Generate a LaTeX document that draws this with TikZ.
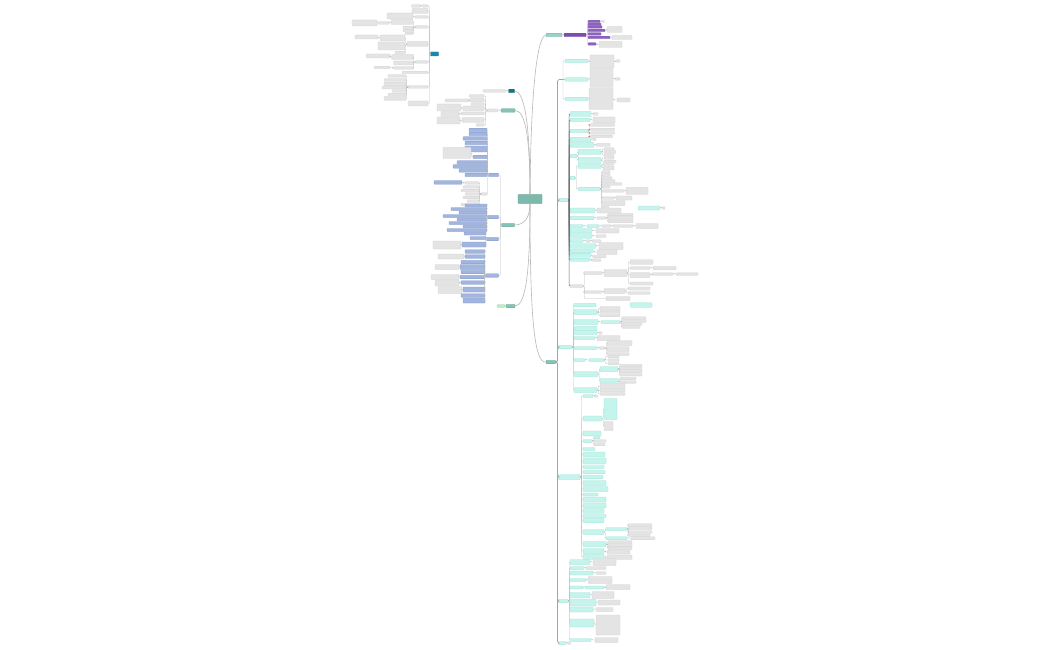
\documentclass[tikz,border=0pt]{standalone}
\definecolor{cfill}{HTML}{7DB9AC}
\definecolor{cedge}{HTML}{5E9E91}
\definecolor{tfill}{HTML}{86C3B6}
\definecolor{tedge}{HTML}{67A99B}
\definecolor{tlight}{HTML}{9AD4C8}
\definecolor{cyfill}{HTML}{C4F4EC}
\definecolor{cyedge}{HTML}{9FE3D8}
\definecolor{lffill}{HTML}{E4E4E4}
\definecolor{lfedge}{HTML}{D2D2D2}
\definecolor{blfill}{HTML}{A2B5DE}
\definecolor{bledge}{HTML}{7E96C8}
\definecolor{pufill}{HTML}{7A4DAF}
\definecolor{pulight}{HTML}{8C63BC}
\definecolor{dteal}{HTML}{18708A}
\definecolor{tblue}{HTML}{1D86AD}
\definecolor{grfill}{HTML}{B9F0C9}
\definecolor{conncol}{HTML}{BDBDBD}
\definecolor{spinecol}{HTML}{A4A4A4}
\definecolor{curvecol}{HTML}{B8B8B8}
\definecolor{dconncol}{HTML}{6E6E6E}
\tikzset{
 mbox/.style={inner sep=0pt, outer sep=0pt, rounded corners=0.5pt, line width=0.25pt},
 mlf/.style={mbox, fill=lffill, draw=lfedge},
 mcy/.style={mbox, fill=cyfill, draw=cyedge},
 mbl/.style={mbox, fill=blfill, draw=bledge},
 mpu/.style={mbox, fill=pufill, draw=pufill},
 mpul/.style={mbox, fill=pulight, draw=pulight},
 mtm/.style={mbox, fill=tfill, draw=tedge},
 mgr/.style={mbox, fill=grfill, draw=grfill!80!black},
 conn/.style={draw=conncol, line width=0.35pt, rounded corners=0.8pt},
 dconn/.style={draw=dconncol, line width=0.55pt, rounded corners=0.8pt},
 spine/.style={draw=spinecol, line width=0.7pt, rounded corners=1.5pt},
 mainconn/.style={draw=curvecol, line width=0.6pt},
 reddot/.style={circle, fill=red!75, inner sep=0pt, minimum size=1.5pt},
}
% #2 parent, #3 name, #4 style, #5 x, #6 y, #7 width, #8 height
\newcommand\mmR[8][conn]{%
  \node[#4,anchor=west,minimum width=#7pt,minimum height=#8pt] (#3) at (#5,#6) {};
  \draw[#1] (#2.east) -- ++(1.2,0) |- (#3.west);}
\newcommand\mmL[8][conn]{%
  \node[#4,anchor=east,minimum width=#7pt,minimum height=#8pt] (#3) at (#5,#6) {};
  \draw[#1] (#2.west) -- ++(-1.2,0) |- (#3.east);}
\begin{document}
\begin{tikzpicture}[x=1pt,y=-1pt]
\fill[white] (0,0) rectangle (1050,650);
\useasboundingbox (0,0) rectangle (1050,650);

% ---------- central topic ----------
\node[mbox, fill=cfill, draw=cedge, minimum width=24pt, minimum height=9pt] (C) at (530,199) {};

% ---------- main branches ----------
\node[mbox, fill=tlight, draw=tedge, anchor=west, minimum width=16pt, minimum height=3.5pt] (A) at (546,35) {};
\draw[mainconn] (C.north) .. controls (531,80) and (538,36) .. (A.west);
\node[mbox, fill=dteal, draw=dteal, anchor=east, minimum width=6pt, minimum height=3.5pt] (B) at (514.5,91) {};
\draw[mainconn] (C.north) .. controls (530,120) and (524,91) .. (B.east);
\node[mtm, anchor=east, minimum width=14pt, minimum height=3.5pt] (D) at (515,110.5) {};
\draw[mainconn] (C.north) .. controls (530,135) and (525,110.5) .. (D.east);
\node[mtm, anchor=east, minimum width=13pt, minimum height=3.5pt] (E) at (514.5,225) {};
\draw[mainconn] (C.south) .. controls (530,218) and (524,225) .. (E.east);
\node[mtm, anchor=east, minimum width=9pt, minimum height=3.5pt] (F) at (515,306) {};
\draw[mainconn] (C.south) .. controls (530,270) and (526,306) .. (F.east);
\node[mtm, anchor=west, minimum width=9.5pt, minimum height=3.5pt] (S) at (546,362) {};
\draw[mainconn] (C.south) .. controls (530,315) and (534,364) .. (S.west);

% ---------- A: purple ----------
\mmR{A}{P}{mpu}{564}{35}{22}{3.5}
\mmR{P}{p1}{mpul}{588}{21.5}{12}{2.5}
\mmR{P}{p2}{mpul}{588}{24.3}{13}{2.5}
\mmR{P}{p3}{mpul}{588}{27}{14}{2.5}
\mmR{P}{p4}{mpul}{588}{30.5}{17}{2.5}
\mmR{P}{p5}{mpul}{588}{34}{13}{2.5}
\mmR{P}{p6}{mpul}{588}{37.5}{22}{2.5}
\mmR{P}{p7}{mpul}{588}{44}{8}{2.5}
\mmR{p1}{p1a}{mlf}{601.5}{21.5}{3}{2}
\mmR{p4}{p4a}{mlf}{607}{29.5}{15}{6}
\mmR{p6}{p6a}{mlf}{612}{37.5}{20}{4}
\mmR{p7}{p7a}{mlf}{599}{44.5}{23}{6}

% ---------- B ----------
\mmL{B}{b1}{mlf}{506}{91}{23}{2.5}

% ---------- D ----------
\mmL{D}{d0}{mlf}{498}{110.5}{11}{3}
\mmL{d0}{d1}{mlf}{484}{96}{15}{2.5}
\mmL{d0}{d2}{mlf}{484}{100}{14}{4}
\mmL{d2}{d2a}{mlf}{469}{100.5}{24}{3}
\mmL{d0}{d3}{mlf}{484}{104}{13}{2.5}
\mmL{d0}{d4}{mlf}{484}{108.5}{21}{5}
\mmL{d4}{d4a}{mlf}{461}{107.5}{24}{7}
\mmL{d0}{d5}{mlf}{484}{113.5}{23}{3}
\mmL{d5}{d5a}{mlf}{459}{114}{18}{5}
\mmL{d0}{d6}{mlf}{484}{120}{22}{5}
\mmL{d6}{d6a}{mlf}{460}{120.5}{23}{7}
\mmL{d0}{d7}{mlf}{484}{125}{8}{2.5}

% ---------- E ----------
\mmL{E}{e1}{mbl}{498.5}{175}{10}{3.5}
\mmL{E}{e2}{mbl}{498.5}{217}{11}{3.5}
\mmL{E}{e3}{mbl}{498.5}{239}{12}{3.5}
\mmL{E}{e4}{mbl}{498.5}{275.5}{13}{3.5}
\mmL{e1}{e11}{mbl}{487}{130}{18}{3.5}
\mmL{e1}{e12}{mbl}{487}{134}{18}{3.5}
\mmL{e1}{e13}{mbl}{487}{138.5}{24}{3.5}
\mmL{e1}{e14}{mbl}{487}{143}{22}{3.5}
\mmL{e1}{e15}{mbl}{487}{149}{22}{6}
\mmL{e1}{e16}{mbl}{487}{157}{14}{3.5}
\mmL{e16}{e16a}{mlf}{471}{153}{28}{11}
\mmL{e1}{e17}{mbl}{487}{162.5}{30}{3.5}
\mmL{e1}{e18}{mbl}{487}{166.5}{34}{3.5}
\mmL{e1}{e19}{mbl}{487}{170.5}{28}{3.5}
\mmL{e1}{e1a}{mbl}{487}{175}{22}{3.5}
\mmL{e1}{e1b}{mlf}{487}{194}{6}{2.5}
\mmL{e1b}{e1b1}{mlf}{479}{183}{14}{2.5}
\mmL{e1b1}{e1b1a}{mbl}{462}{182.5}{28}{3.5}
\mmL{e1b}{e1b2}{mlf}{479}{187}{16}{2.5}
\mmL{e1b}{e1b3}{mlf}{479}{190.5}{18}{2.5}
\mmL{e1b}{e1b4}{mlf}{479}{194}{14}{2.5}
\mmL{e1b}{e1b5}{mlf}{479}{197.5}{16}{2.5}
\mmL{e1b}{e1b6}{mlf}{479}{201}{12}{2.5}
\mmL{e1b}{e1b7}{mlf}{479}{204.5}{18}{2.5}
\mmL{e2}{e21}{mbl}{487}{205.5}{22}{3}
\mmL{e2}{e22}{mbl}{487}{209}{36}{3}
\mmL{e2}{e23}{mbl}{487}{212.5}{28}{3}
\mmL{e2}{e24}{mbl}{487}{216}{44}{3}
\mmL{e2}{e25}{mbl}{487}{219.5}{30}{3}
\mmL{e2}{e26}{mbl}{487}{223}{38}{3}
\mmL{e2}{e27}{mbl}{487}{226.5}{24}{3}
\mmL{e2}{e28}{mbl}{487}{230}{40}{3}
\mmL{e3}{e31}{mbl}{486}{233.5}{22}{3}
\mmL{e3}{e32}{mbl}{486}{238}{16}{3}
\mmL{e3}{e33}{mbl}{486}{244.5}{24}{5}
\mmL{e33}{e33a}{mlf}{461}{245}{28}{8}
\mmL{e4}{e41}{mbl}{485}{251.5}{20}{3.5}
\mmL{e4}{e42}{mbl}{485}{256.5}{20}{3.5}
\mmL{e42}{e42a}{mlf}{464}{256.5}{26}{5}
\mmL{e4}{e43}{mbl}{485}{262}{24}{3.5}
\mmL{e4}{e44}{mbl}{485}{267}{25}{5}
\mmL{e44}{e44a}{mlf}{459}{267}{24}{5}
\mmL{e4}{e45}{mbl}{485}{272}{24}{3.5}
\mmL{e4}{e46}{mbl}{485}{277}{25}{3.5}
\mmL{e46}{e46a}{mlf}{459}{277}{28}{5}
\mmL{e4}{e47}{mbl}{485}{282.5}{24}{3.5}
\mmL{e47}{e47a}{mlf}{459}{283}{24}{6}
\mmL{e4}{e48}{mbl}{485}{289.5}{22}{5}
\mmL{e48}{e48a}{mlf}{462}{290}{24}{7}
\mmL{e4}{e49}{mbl}{485}{295.5}{24}{3.5}
\mmL{e4}{e4a}{mbl}{485}{300.5}{22}{5}

% ---------- F ----------
\mmL{F}{f1}{mgr}{505}{306}{8}{2.5}

% ---------- floating cluster ----------
\node[mbox, fill=tblue, draw=tblue, anchor=west, minimum width=8pt, minimum height=4pt] (T) at (430.5,54) {};
\mmL{T}{t1}{mlf}{428}{6}{6}{2.5}
\mmL{t1}{t1a}{mlf}{420.5}{6}{9}{2.5}
\mmL{T}{t2}{mlf}{428}{11}{16}{5}
\mmL{T}{t3}{mlf}{428}{17}{13}{2.5}
\mmL{t3}{t3a}{mlf}{413}{16}{26}{6}
\mmL{T}{t4}{mlf}{428}{27}{13}{2.5}
\mmL{t4}{t4a}{mlf}{413}{22}{22}{5}
\mmL{t4a}{t4b}{mlf}{389}{23}{11}{2.5}
\mmL{t4b}{t4c}{mlf}{377}{23}{25}{6}
\mmL{t4}{t4d}{mlf}{413}{27.5}{10}{2.5}
\mmL{t4}{t4e}{mlf}{413}{30.5}{10}{2.5}
\mmL{t4}{t4f}{mlf}{413}{33.5}{8}{2.5}
\mmL{T}{t5}{mlf}{428}{44}{21}{5}
\mmL{t5}{t5a}{mlf}{405}{38}{25}{6}
\mmL{t5a}{t5b}{mlf}{378}{37}{23}{4}
\mmL{t5}{t5c}{mlf}{405}{46}{27}{8}
\mmL{t5}{t5d}{mlf}{405}{52.5}{10}{2.5}
\mmL{T}{t6}{mlf}{428}{62}{13}{2.5}
\mmL{t6}{t6a}{mlf}{413.5}{57}{22}{5}
\mmL{t6a}{t6b}{mlf}{390}{56}{24}{4}
\mmL{t6}{t6c}{mlf}{413.5}{63}{20}{4}
\mmL{t6}{t6d}{mlf}{413.5}{68}{20}{2.5}
\mmL{t6d}{t6e}{mlf}{390}{67.5}{16}{2.5}
\mmL{T}{t7}{mlf}{428}{72.5}{26}{2.5}
\mmL{T}{t8}{mlf}{428}{87}{20}{2.5}
\mmL{t8}{t81}{mlf}{406}{76}{18}{2.5}
\mmL{t8}{t82}{mlf}{406}{80}{22}{2.5}
\mmL{t8}{t83}{mlf}{406}{84}{22}{3.5}
\mmL{t8}{t84}{mlf}{406}{87.5}{24}{3}
\mmL{t8}{t85}{mlf}{406}{91}{14}{2.5}
\mmL{t8}{t86}{mlf}{406}{94.5}{18}{2.5}
\mmL{t8}{t87}{mlf}{406}{98.5}{22}{4}
\mmL{T}{t9}{mlf}{428}{103.5}{20}{5}

% ---------- S: main right spine ----------
\coordinate (j0) at (563,79.5);
\draw[spine] (S.east) -- ++(2,0) |- (j0);
\node[mcy, anchor=west, minimum width=23pt, minimum height=3.5pt] (r1) at (565,61) {};
\node[mcy, anchor=west, minimum width=23pt, minimum height=3.5pt] (r2) at (565,79.5) {};
\node[mcy, anchor=west, minimum width=23pt, minimum height=3.5pt] (r3) at (565,99) {};
\draw[conn] (j0) |- (r1.west);
\draw[conn] (j0) -- (r2.west);
\draw[conn] (j0) |- (r3.west);
\mmR{r1}{r1a}{mlf}{590}{61.5}{24}{13}
\mmR{r1a}{r1b}{mlf}{616}{61}{4}{2.5}
\mmR{r2}{r2a}{mlf}{590}{78}{23}{19}
\mmR{r2a}{r2b}{mlf}{615}{79}{5}{2.5}
\mmR{r3}{r3a}{mlf}{589}{99}{24}{21}
\mmR{r3a}{r3b}{mlf}{617}{100}{13}{4}

% ----- G1 -----
\node[mcy, anchor=west, minimum width=10pt, minimum height=3.5pt] (G1) at (558,200) {};
\draw[spine] (S.east) -- ++(2,0) |- (G1.west);
\mmR[dconn]{G1}{g11}{mcy}{570}{114}{21}{5}
\mmR{g11}{g11a}{mlf}{593}{114}{5}{2.5}
\mmR[dconn]{G1}{g12}{mcy}{570}{120}{20}{3.5}
\mmR{g12}{g12a}{mlf}{593}{120}{22}{6}
\mmR[dconn]{G1}{g13}{mcy}{570}{131}{18}{3.5}
\mmR{g13}{g13a}{mlf}{590.5}{125}{24}{3}
\mmR{g13}{g13b}{mlf}{590.5}{129.5}{24}{2.5}
\mmR{g13}{g13c}{mlf}{590.5}{133}{24}{2.5}
\mmR{g13}{g13d}{mlf}{590.5}{136.5}{22}{2.5}
\node[reddot] (rd1) at (589.2,125) {};
\node[reddot] (rd2) at (589.2,129.5) {};
\node[reddot] (rd3) at (589.2,133) {};
\node[reddot] (rd4) at (589.2,136.5) {};
\mmR[dconn]{G1}{g14}{mcy}{570}{139.5}{21}{4.5}
\mmR{g14}{g14a}{mlf}{593}{139.5}{3}{2.5}
\mmR[dconn]{G1}{g15}{mcy}{570}{145}{24}{5}
\mmR{g15}{g15a}{mlf}{596}{145}{14}{3}
\mmR[dconn]{G1}{g16}{mcy}{570}{156}{7}{3.5}
\mmR{g16}{g16a}{mcy}{578}{152}{23}{5}
\mmR{g16a}{g16a1}{mlf}{604}{149}{10}{2.5}
\mmR{g16a}{g16a2}{mlf}{604}{152}{12}{2.5}
\mmR{g16a}{g16a3}{mlf}{604}{155}{10}{2.5}
\mmR{g16}{g16b}{mcy}{578}{160}{23}{5}
\mmR{g16b}{g16b1}{mlf}{604}{158}{10}{2.5}
\mmR{g16b}{g16b2}{mlf}{604}{161.5}{12}{2.5}
\mmR[dconn]{G1}{g17}{mcy}{570}{178}{5}{3.5}
\mmR{g17}{g17a}{mcy}{578}{166}{23}{5}
\mmR{g17a}{g17a1}{mlf}{603}{164}{11}{2.5}
\mmR{g17a}{g17a2}{mlf}{603}{168}{11}{4}
\mmR{g17}{g17b}{mcy}{578}{189}{22}{3.5}
\mmR{g17b}{g17b1}{mlf}{602}{172}{8}{2.5}
\mmR{g17b}{g17b2}{mlf}{602}{175}{8}{2.5}
\mmR{g17b}{g17b3}{mlf}{602}{178}{10}{2.5}
\mmR{g17b}{g17b4}{mlf}{602}{181}{13}{2.5}
\mmR{g17b}{g17b5}{mlf}{602}{184}{20}{2.5}
\mmR{g17b}{g17b6}{mlf}{602}{187}{8}{2.5}
\mmR{g17b}{g17b7}{mlf}{602}{191}{22}{2.5}
\mmR{g17b7}{g17b7a}{mlf}{626}{191}{22}{7}
\mmR{g17b}{g17b8}{mlf}{602}{198}{12}{2.5}
\mmR{g17b8}{g17b8a}{mlf}{616}{198}{16}{4}
\mmR{g17b}{g17b9}{mlf}{602}{203}{23}{5}
\mmR{g17b}{g17ba}{mlf}{602}{207.5}{7}{2.5}
\mmR[dconn]{G1}{g18}{mcy}{570}{210.5}{25}{5}
\mmR{g18}{g18a}{mlf}{597}{210.5}{24}{5}
\node[mcy, anchor=west, minimum width=22pt, minimum height=4pt] (fl1) at (638,208) {};
\mmR{fl1}{fl1a}{mlf}{662}{208}{3}{2.5}
\mmR[dconn]{G1}{g19}{mcy}{570}{218}{24}{3.5}
\mmR{g19}{g19a}{mlf}{597}{218}{9}{2.5}
\mmR{g19a}{g19a1}{mlf}{608}{214.5}{25}{2.5}
\mmR{g19a}{g19a2}{mlf}{608}{218}{25}{4}
\mmR{g19a}{g19a3}{mlf}{608}{221.5}{25}{2.5}
\mmR[dconn]{G1}{g1a}{mcy}{570}{226}{13}{3}
\mmR{g1a}{g1a1}{mcy}{587}{226}{12}{3}
\mmR{g1a1}{g1a2}{mlf}{602}{226}{9}{2.5}
\mmR{g1a2}{g1a3}{mlf}{613}{226}{20}{2.5}
\mmR{g1a3}{g1a4}{mlf}{636}{226}{22}{5}
\mmR[dconn]{G1}{g1b}{mcy}{570}{230.8}{22}{4.5}
\mmR{g1b}{g1b1}{mlf}{596}{230.8}{23}{4.5}
\mmR[dconn]{G1}{g1c}{mcy}{570}{236}{22}{4.5}
\mmR{g1c}{g1c1}{mlf}{596}{236}{10}{2.5}
\mmR[dconn]{G1}{g1d}{mcy}{570}{241}{13}{3}
\mmR{g1d}{g1d1}{mlf}{586}{241}{4}{2.5}
\mmR{g1d1}{g1d2}{mlf}{592}{241}{9}{2.5}
\mmR[dconn]{G1}{g1e}{mcy}{570}{246}{26}{4.5}
\mmR{g1e}{g1e1}{mlf}{599}{246}{24}{7}
\mmR[dconn]{G1}{g1f}{mcy}{570}{251}{23}{3.5}
\mmR{g1f}{g1f1}{mlf}{597}{252}{20}{5}
\mmR[dconn]{G1}{g1g}{mcy}{570}{255.2}{21}{4}
\mmR{g1g}{g1g1}{mlf}{593}{256.5}{13}{2.5}
\mmR[dconn]{G1}{g1h}{mcy}{570}{259.7}{20}{3}
\mmR{g1h}{g1h1}{mlf}{592}{260}{9}{2.5}
\mmR[dconn]{G1}{g1i}{mlf}{570}{286}{13}{3}
\mmR{g1i}{g1i1}{mlf}{584}{273}{18}{3}
\mmR{g1i1}{g1i1a}{mlf}{604}{273}{23}{7}
\mmR{g1i1a}{g1i1b}{mlf}{630}{262}{23}{4.5}
\mmR{g1i1a}{g1i1c}{mlf}{630}{268}{20}{2.5}
\mmR{g1i1c}{g1i1d}{mlf}{653}{268}{23}{3.5}
\mmR{g1i1a}{g1i1e}{mlf}{630}{275}{20}{5}
\mmR{g1i1e}{g1i1f}{mlf}{652}{274}{21}{2.5}
\mmR{g1i1f}{g1i1g}{mlf}{676}{274}{22}{2.5}
\mmR{g1i1a}{g1i1h}{mlf}{630}{283.5}{23}{3}
\mmR{g1i}{g1i2}{mlf}{584}{292}{18}{2.5}
\mmR{g1i2}{g1i2a}{mlf}{604}{291}{21}{5}
\mmR{g1i2a}{g1i2b}{mlf}{628}{288.5}{22}{3}
\mmR{g1i2a}{g1i2c}{mlf}{628}{293}{22}{2.5}
\mmR{g1i}{g1i3}{mlf}{606}{298.5}{24}{4}

% ----- G2 -----
\node[mcy, anchor=west, minimum width=14pt, minimum height=3.5pt] (G2) at (558,347) {};
\draw[spine] (S.east) -- ++(2,0) |- (G2.west);
\mmR{G2}{g21}{mcy}{574}{305}{22}{3.5}
\node[mcy, anchor=west, minimum width=22pt, minimum height=4.5pt] (fl2) at (630,305) {};
\mmR{G2}{g22}{mcy}{574}{312}{23}{5}
\mmR{g22}{g22a}{mlf}{600}{308.5}{20}{4}
\mmR{g22}{g22b}{mlf}{600}{312.2}{20}{2.5}
\mmR{g22}{g22c}{mlf}{600}{315.5}{20}{2.5}
\mmR{G2}{g23}{mcy}{574}{322}{24}{5}
\mmR{g23}{g23a}{mcy}{601}{322}{19}{3}
\mmR{g23a}{g23b}{mlf}{622}{318}{24}{2.5}
\mmR{g23a}{g23c}{mlf}{622}{321}{24}{2.5}
\mmR{g23a}{g23d}{mlf}{622}{324}{20}{2.5}
\mmR{g23a}{g23e}{mlf}{622}{327}{18}{2.5}
\mmR{G2}{g24}{mcy}{574}{328.5}{23}{4.5}
\mmR{G2}{g25}{mcy}{574}{333}{23}{3}
\mmR{g25}{g25a}{mlf}{599}{333}{3}{2.5}
\mmR{G2}{g26}{mcy}{574}{338}{21}{3}
\mmR{g26}{g26a}{mlf}{597}{338}{23}{5}
\mmR{G2}{g27}{mcy}{574}{348}{23}{3}
\mmR{g27}{g27a}{mlf}{599}{348}{6}{2.5}
\mmR{g27a}{g27b}{mlf}{607}{343}{25}{5}
\mmR{g27a}{g27c}{mlf}{607}{349}{22}{5}
\mmR{g27a}{g27d}{mlf}{607}{354}{22}{3}
\mmR{G2}{g28}{mcy}{574}{360}{11}{3}
\mmR{g28}{g28a}{mcy}{589}{360}{15}{3}
\mmR{g28a}{g28b}{mlf}{608}{356.5}{11}{2.5}
\mmR{g28a}{g28c}{mlf}{608}{360}{11}{2.5}
\mmR{g28a}{g28d}{mlf}{608}{363.5}{11}{2.5}
\mmR{G2}{g29}{mcy}{574}{374}{24}{5}
\mmR{g29}{g29a}{mcy}{600}{369}{18}{5}
\mmR{g29a}{g29a1}{mlf}{620}{365.5}{22}{2.5}
\mmR{g29a}{g29a2}{mlf}{620}{368.5}{22}{2.5}
\mmR{g29a}{g29a3}{mlf}{620}{371.5}{22}{2.5}
\mmR{g29a}{g29a4}{mlf}{620}{374.8}{22}{2.5}
\mmR{g29}{g29b}{mcy}{600}{381}{18}{5}
\mmR{g29b}{g29b1}{mlf}{620}{378.5}{16}{2.5}
\mmR{g29b}{g29b2}{mlf}{620}{382}{16}{2.5}
\mmR{G2}{g2a}{mcy}{574}{390}{23}{5}
\mmR{g2a}{g2a1}{mlf}{600}{386}{25}{6}
\mmR{g2a}{g2a2}{mlf}{600}{390.8}{25}{2.5}
\mmR{g2a}{g2a3}{mlf}{600}{394}{25}{2.5}

% ----- G3 -----
\node[mcy, anchor=west, minimum width=22pt, minimum height=5pt] (G3) at (558,477) {};
\draw[spine] (S.east) -- ++(2,0) |- (G3.west);
\mmR{G3}{g31}{mcy}{583}{396}{10}{3}
\mmR{g31}{g31a}{mlf}{594.5}{396}{3}{2.5}
\mmR{G3}{g32}{mcy}{583}{418.5}{19}{5}
\mmR{g32}{g32a}{mcy}{604}{409}{13}{21}
\mmR{g32}{g32b}{mlf}{604}{426}{9}{9}
\mmR{G3}{g33}{mcy}{583}{433.5}{18}{5}
\mmR{G3}{g34}{mcy}{583}{441}{9}{3}
\mmR{g34}{g34a}{mcy}{594}{437.5}{6}{2.5}
\mmR{g34}{g34b}{mlf}{594}{441}{12}{2.5}
\mmR{g34}{g34c}{mlf}{594}{444.5}{11}{2.5}
\mmR{G3}{g35}{mcy}{583}{449}{12}{3}
\mmR{G3}{g36}{mcy}{583}{454.5}{22}{5}
\mmR{G3}{g37}{mcy}{583}{461}{23}{6}
\mmR{G3}{g38}{mcy}{583}{467}{21}{3}
\mmR{G3}{g39}{mcy}{583}{472}{22}{3.5}
\mmR{G3}{g3a}{mcy}{583}{477}{20}{3.5}
\mmR{G3}{g3b}{mcy}{583}{483}{23}{5}
\mmR{G3}{g3c}{mcy}{583}{489}{25}{5}
\mmR{G3}{g3d}{mcy}{583}{494.5}{15}{3}
\mmR{G3}{g3e}{mcy}{583}{499.5}{23}{5}
\mmR{G3}{g3f}{mcy}{583}{505.5}{23}{5}
\mmR{G3}{g3g}{mcy}{583}{511}{21}{4.5}
\mmR{G3}{g3h}{mcy}{583}{516}{23}{3}
\mmR{G3}{g3i}{mcy}{583}{520.5}{21}{4.5}
\mmR{G3}{g3j}{mcy}{583}{532}{21}{5}
\mmR{g3j}{g3j1}{mcy}{606}{529}{21}{3}
\mmR{g3j1}{g3j2}{mlf}{628}{525}{24}{2.5}
\mmR{g3j1}{g3j3}{mlf}{628}{528.2}{24}{3}
\mmR{g3j1}{g3j4}{mlf}{628}{532}{24}{2.5}
\mmR{g3j1}{g3j5}{mlf}{628}{535.3}{22}{2.5}
\mmR{g3j}{g3j6}{mcy}{606}{538.3}{21}{3}
\mmR{g3j6}{g3j7}{mlf}{631}{538.3}{24}{3}
\mmR{G3}{g3k}{mcy}{583}{544}{23}{5}
\mmR{g3k}{g3k1}{mlf}{608}{541.8}{24}{2.5}
\mmR{g3k}{g3k2}{mlf}{608}{545}{24}{3.5}
\mmR{g3k}{g3k3}{mlf}{608}{548.3}{24}{2.5}
\mmR{G3}{g3l}{mcy}{583}{551}{21}{5}
\mmR{g3l}{g3l1}{mlf}{607}{552}{23}{4}
\mmR{G3}{g3m}{mcy}{583}{556.8}{21}{5}
\mmR{g3m}{g3m1}{mlf}{607}{557.2}{25}{4.5}

% ----- G4 -----
\node[mcy, anchor=west, minimum width=10pt, minimum height=3.5pt] (G4) at (558,601) {};
\draw[spine] (S.east) -- ++(2,0) |- (G4.west);
\mmR{G4}{g41}{mcy}{570}{562}{20}{5}
\mmR{g41}{g41a}{mlf}{593}{562}{23}{7}
\mmR{G4}{g42}{mcy}{570}{568}{14}{3}
\mmR{g42}{g42a}{mlf}{586}{568}{20}{3}
\mmR{G4}{g43}{mcy}{570}{573}{23}{4}
\mmR{g43}{g43a}{mlf}{596}{573}{10}{2.5}
\mmR{G4}{g44}{mcy}{570}{580}{16}{3}
\mmR{g44}{g44a}{mlf}{588}{580}{24}{7}
\mmR{G4}{g45}{mcy}{570}{587.5}{13}{3}
\mmR{g45}{g45a}{mcy}{585}{587.5}{19}{3}
\mmR{g45a}{g45b}{mlf}{606}{587}{24}{5}
\mmR{G4}{g46}{mcy}{570}{595}{20}{5}
\mmR{g46}{g46a}{mlf}{592}{595}{22}{7}
\mmR{G4}{g47}{mcy}{570}{602.5}{26}{7}
\mmR{g47}{g47a}{mlf}{598}{602.5}{22}{5}
\mmR{G4}{g48}{mcy}{570}{609.5}{23}{5}
\mmR{g48}{g48a}{mlf}{596}{609.5}{17}{4}
\mmR{G4}{g49}{mcy}{570}{623}{24}{8}
\mmR{g49}{g49a}{mlf}{596}{625}{24}{20}
\mmR{G4}{g4a}{mcy}{570}{640}{21}{3}
\mmR{g4a}{g4a1}{mlf}{595}{640}{23}{5}

% ----- G5 -----
\node[mcy, anchor=west, minimum width=8pt, minimum height=3pt] (G5) at (558,643) {};
\draw[spine] (S.east) -- ++(2,0) |- (G5.west);
\mmR{G5}{g51}{mlf}{567.5}{643}{3}{2.5}
\end{tikzpicture}
\end{document}
